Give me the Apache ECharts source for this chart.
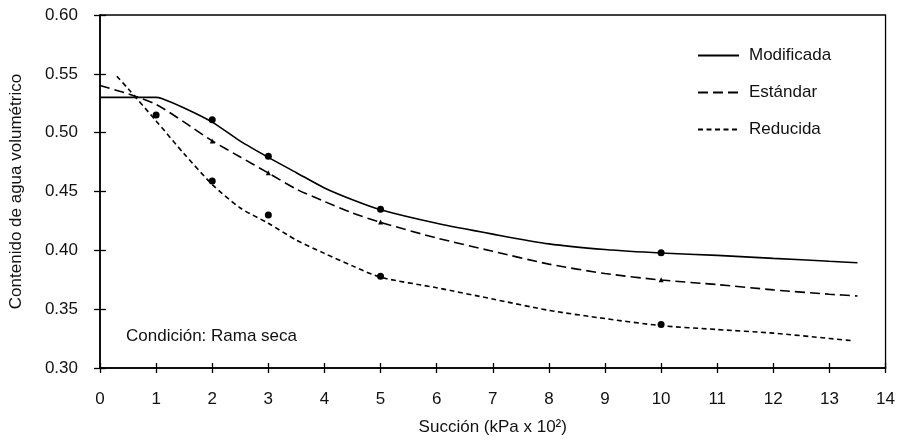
<!DOCTYPE html>
<html>
<head>
<meta charset="utf-8">
<script src="https://cdn.jsdelivr.net/npm/echarts@6/dist/echarts.min.js"></script>
<style>
  html, body { margin: 0; padding: 0; background: #fff; }
  #chart { width: 898px; height: 441px; }
</style>
</head>
<body>
<div id="chart"></div>
<script>
// Retention curves (volumetric water content vs. suction), dry branch
const seriesNames = ['Modificada', 'Estándar', 'Reducida'];

// Fitted curves: [suction (kPa x 10^2), volumetric water content]
const curveModificada = [
  [0, 0.530], [0.5, 0.530], [1.0, 0.530], [1.1, 0.529], [1.5, 0.521],
  [2.0, 0.509], [2.5, 0.4928], [3.0, 0.479], [3.5, 0.466], [4.0, 0.453],
  [4.5, 0.443], [5.0, 0.4345], [6.0, 0.423], [7.0, 0.4138], [8.0, 0.4055],
  [9.0, 0.4007], [10.0, 0.3977], [11.0, 0.3957], [12.0, 0.3932],
  [13.0, 0.3907], [13.5, 0.3895]
];
const curveEstandar = [
  [0, 0.540], [0.5, 0.533], [1.0, 0.524], [1.5, 0.509], [2.0, 0.493],
  [2.5, 0.4793], [3.0, 0.4657], [3.5, 0.452], [4.0, 0.4415], [4.5, 0.4317],
  [5.0, 0.4238], [6.0, 0.4105], [7.0, 0.3992], [8.0, 0.3883], [9.0, 0.3803],
  [10.0, 0.3748], [11.0, 0.3709], [12.0, 0.3664], [13.0, 0.3627],
  [13.5, 0.3612]
];
const curveReducida = [
  [0.3, 0.548], [0.5, 0.5374], [1.0, 0.510], [1.5, 0.482], [2.0, 0.456],
  [2.5, 0.436], [3.0, 0.423], [3.5, 0.4087], [4.0, 0.3974], [4.5, 0.3868],
  [5.0, 0.3771], [6.0, 0.3682], [7.0, 0.3586], [8.0, 0.349], [9.0, 0.342],
  [10.0, 0.336], [11.0, 0.3327], [12.0, 0.3296], [13.0, 0.3251],
  [13.4, 0.3232]
];

// Measured points
const puntosModificada = [[2, 0.511], [3, 0.480], [5, 0.435], [10, 0.398]];
const puntosEstandar = [[2, 0.493], [3, 0.466], [5, 0.424], [10, 0.375]];
const puntosReducida = [[1, 0.515], [2, 0.459], [3, 0.430], [5, 0.378], [10, 0.337]];

const xTicks = { min: 0, max: 14, step: 1 };
const yTicks = { min: 0.30, max: 0.60, step: 0.05 };

const FONT = '"Liberation Sans", Arial, sans-serif';
const INK = '#111';

const chart = echarts.init(document.getElementById('chart'), null, { renderer: 'canvas' });

function lineSeries(name, data, type) {
  return {
    name: name,
    type: 'line',
    data: data,
    showSymbol: false,
    symbol: 'none',
    smooth: 0.25,
    lineStyle: { color: '#000', width: 1.6, type: type },
    itemStyle: { color: '#000' },
    z: 3
  };
}

function pointSeries(data, symbol, size) {
  return {
    type: 'scatter',
    data: data,
    symbol: symbol,
    symbolSize: size,
    itemStyle: { color: '#000', opacity: 1 },
    z: 4,
    silent: true
  };
}

const baseX = {
  type: 'value', min: xTicks.min, max: xTicks.max, interval: xTicks.step,
  position: 'bottom', splitLine: { show: false }
};
const baseY = {
  type: 'value', min: yTicks.min, max: yTicks.max, interval: yTicks.step,
  position: 'left', splitLine: { show: false }
};

chart.setOption({
  animation: false,
  backgroundColor: '#fff',
  textStyle: { fontFamily: FONT },
  grid: {
    left: 99, right: 6, top: 15, bottom: 73,
    show: true, borderColor: '#000', borderWidth: 1.3, backgroundColor: '#fff'
  },
  title: {
    text: 'Condición: Rama seca',
    left: 126, top: 328, padding: 0,
    textStyle: { fontFamily: FONT, fontSize: 17, fontWeight: 'normal', color: INK }
  },
  legend: {
    data: seriesNames,
    orient: 'vertical',
    left: 697, top: 47, padding: 0,
    itemWidth: 41, itemHeight: 14, itemGap: 20,
    itemStyle: { opacity: 0 },
    textStyle: { fontFamily: FONT, fontSize: 17, color: INK, padding: [0, 0, 0, 5] },
    selectedMode: false
  },
  xAxis: [
    Object.assign({}, baseX, {
      name: 'Succión (kPa x 10²)',
      nameLocation: 'middle', nameGap: 51,
      nameTextStyle: { fontFamily: FONT, fontSize: 17, color: INK },
      axisLine: { show: true, lineStyle: { color: '#000', width: 1.6 } },
      axisTick: { show: true, inside: false, length: 5, lineStyle: { color: '#000', width: 1.3 } },
      axisLabel: { margin: 23, fontFamily: FONT, fontSize: 17, color: INK }
    }),
    Object.assign({}, baseX, {
      axisLine: { show: false },
      axisTick: { show: true, inside: true, length: 5, lineStyle: { color: '#000', width: 1.3 } },
      axisLabel: { show: false }
    })
  ],
  yAxis: [
    Object.assign({}, baseY, {
      name: 'Contenido de agua volumétrico',
      nameLocation: 'middle', nameGap: 75,
      nameTextStyle: { fontFamily: FONT, fontSize: 17, color: INK },
      axisLine: { show: true, lineStyle: { color: '#000', width: 1.6 } },
      axisTick: { show: true, inside: false, length: 6, lineStyle: { color: '#000', width: 1.3 } },
      axisLabel: {
        margin: 22, fontFamily: FONT, fontSize: 17, color: INK,
        formatter: function (v) { return v.toFixed(2); }
      }
    }),
    Object.assign({}, baseY, {
      axisLine: { show: false },
      axisTick: { show: true, inside: true, length: 6, lineStyle: { color: '#000', width: 1.3 } },
      axisLabel: { show: false }
    })
  ],
  series: [
    lineSeries(seriesNames[0], curveModificada, 'solid'),
    lineSeries(seriesNames[1], curveEstandar, [10, 5]),
    lineSeries(seriesNames[2], curveReducida, [5, 3.5]),
    pointSeries(puntosModificada, 'circle', 7),
    pointSeries(puntosEstandar, 'triangle', 5),
    pointSeries(puntosReducida, 'circle', 7)
  ]
});
</script>
</body>
</html>
